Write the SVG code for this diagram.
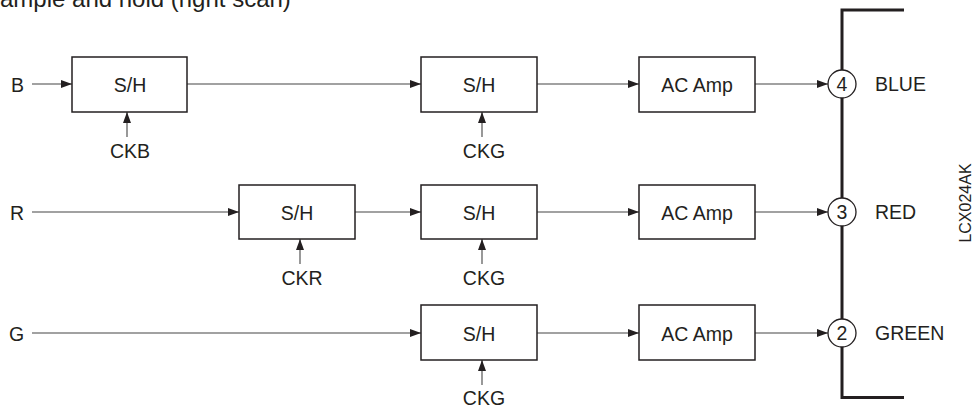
<svg xmlns="http://www.w3.org/2000/svg" width="975" height="409" viewBox="0 0 975 409">
<style>
text{font-family:"Liberation Sans",Arial,sans-serif;fill:#231f20;font-size:19.5px}
.c{text-anchor:middle}
.box{fill:#fff;stroke:#231f20;stroke-width:1.5}
.ln{stroke:#444;stroke-width:1.1;fill:none}
.bus{stroke:#231f20;stroke-width:3;fill:none}
.pin{fill:#fff;stroke:#231f20;stroke-width:1.3}
</style>
<defs>
<marker id="ah" markerUnits="userSpaceOnUse" markerWidth="12" markerHeight="10" refX="11" refY="4" orient="auto">
<path d="M0,0 L11,4 L0,8 Z" fill="#231f20"/>
</marker>
</defs>
<text x="0" y="7" style="font-size:24px">ample and hold (right scan)</text>
<g id="connectors">
<line class="ln" x1="32" y1="84" x2="72" y2="84" marker-end="url(#ah)"/>
<line class="ln" x1="187" y1="84" x2="421" y2="84" marker-end="url(#ah)"/>
<line class="ln" x1="537" y1="84" x2="639" y2="84" marker-end="url(#ah)"/>
<line class="ln" x1="755" y1="84" x2="828" y2="84" marker-end="url(#ah)"/>
<line class="ln" x1="32" y1="212" x2="239" y2="212" marker-end="url(#ah)"/>
<line class="ln" x1="355" y1="212" x2="421" y2="212" marker-end="url(#ah)"/>
<line class="ln" x1="537" y1="212" x2="639" y2="212" marker-end="url(#ah)"/>
<line class="ln" x1="755" y1="212" x2="828" y2="212" marker-end="url(#ah)"/>
<line class="ln" x1="32" y1="333" x2="421" y2="333" marker-end="url(#ah)"/>
<line class="ln" x1="537" y1="333" x2="639" y2="333" marker-end="url(#ah)"/>
<line class="ln" x1="755" y1="333" x2="828" y2="333" marker-end="url(#ah)"/>
<line class="ln" x1="127" y1="137" x2="127" y2="112" marker-end="url(#ah)"/>
<line class="ln" x1="482" y1="137" x2="482" y2="112" marker-end="url(#ah)"/>
<line class="ln" x1="300" y1="264" x2="300" y2="239" marker-end="url(#ah)"/>
<line class="ln" x1="482" y1="264" x2="482" y2="239" marker-end="url(#ah)"/>
<line class="ln" x1="482" y1="385" x2="482" y2="360" marker-end="url(#ah)"/>
<path class="bus" d="M904,10 H842 V397.5 H904"/>
</g>
<g id="in-B"><text x="11" y="91.5">B</text></g>
<g id="in-R"><text x="10" y="219.5">R</text></g>
<g id="in-G"><text x="9" y="340.5">G</text></g>
<g id="sh-b1"><rect class="box" x="72" y="57" width="115" height="55"/><text class="c" x="130" y="92">S/H</text></g>
<g id="sh-b2"><rect class="box" x="421" y="57" width="116" height="55"/><text class="c" x="479" y="92">S/H</text></g>
<g id="amp-b"><rect class="box" x="639" y="57" width="116" height="55"/><text class="c" x="697" y="92">AC Amp</text></g>
<g id="sh-r1"><rect class="box" x="239" y="185" width="116" height="54"/><text class="c" x="297" y="219.5">S/H</text></g>
<g id="sh-r2"><rect class="box" x="421" y="185" width="116" height="54"/><text class="c" x="479" y="219.5">S/H</text></g>
<g id="amp-r"><rect class="box" x="639" y="185" width="116" height="54"/><text class="c" x="697" y="219.5">AC Amp</text></g>
<g id="sh-g"><rect class="box" x="421" y="305" width="116" height="55"/><text class="c" x="479" y="340.5">S/H</text></g>
<g id="amp-g"><rect class="box" x="639" y="305" width="116" height="55"/><text class="c" x="697" y="340.5">AC Amp</text></g>
<g id="ck-b1"><text class="c" x="130" y="158">CKB</text></g>
<g id="ck-b2"><text class="c" x="484" y="158">CKG</text></g>
<g id="ck-r1"><text class="c" x="302" y="285">CKR</text></g>
<g id="ck-r2"><text class="c" x="484" y="285">CKG</text></g>
<g id="ck-g"><text class="c" x="484" y="405">CKG</text></g>
<g id="pin4"><circle class="pin" cx="842" cy="84" r="14"/><text class="c" x="842" y="91">4</text><text x="875" y="91">BLUE</text></g>
<g id="pin3"><circle class="pin" cx="842" cy="212" r="14"/><text class="c" x="842" y="219">3</text><text x="875" y="219">RED</text></g>
<g id="pin2"><circle class="pin" cx="842" cy="333" r="14"/><text class="c" x="842" y="340">2</text><text x="875" y="340">GREEN</text></g>
<text class="c" transform="translate(971,203) rotate(-90)" style="font-size:16px">LCX024AK</text>
</svg>
